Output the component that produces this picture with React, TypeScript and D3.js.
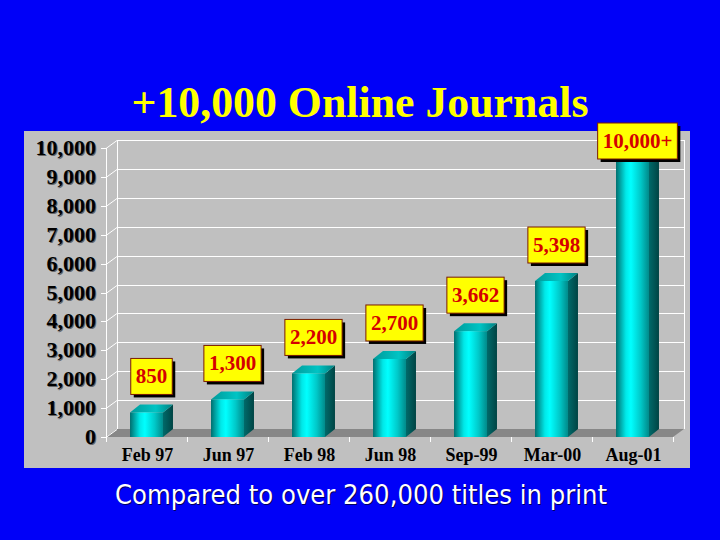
import React, { useEffect, useRef } from "react";
import * as d3 from "d3";

const categories = ["Feb 97", "Jun 97", "Feb 98", "Jun 98", "Sep-99", "Mar-00", "Aug-01"];
const values = [850, 1300, 2200, 2700, 3662, 5398, 10000];
const valueLabels = ["850", "1,300", "2,200", "2,700", "3,662", "5,398", "10,000+"];
const yTicks = [0, 1000, 2000, 3000, 4000, 5000, 6000, 7000, 8000, 9000, 10000];
const title = "+10,000 Online Journals";
const subtitle = "Compared to over 260,000 titles in print";

export default function App() {
  const ref = useRef<SVGSVGElement>(null);
  useEffect(() => {
    const svg = d3.select(ref.current);
    svg.selectAll("*").remove();
    const W = 720, H = 540;
    const serif = "'Liberation Serif', 'Times New Roman', serif";

    const defs = svg.append("defs");
    const gFront = defs.append("linearGradient").attr("id", "front").attr("x1", 0).attr("x2", 1).attr("y1", 0).attr("y2", 0);
    [["0%", "#006e6e"], ["30%", "#00e8e8"], ["45%", "#00ffff"], ["75%", "#00c8c8"], ["100%", "#008a8a"]].forEach(([o, c]) =>
      gFront.append("stop").attr("offset", o).attr("stop-color", c));
    const gSide = defs.append("linearGradient").attr("id", "side").attr("x1", 0).attr("x2", 1).attr("y1", 0).attr("y2", 0);
    [["0%", "#006a6a"], ["100%", "#004444"]].forEach(([o, c]) =>
      gSide.append("stop").attr("offset", o).attr("stop-color", c));
    const gTop = defs.append("linearGradient").attr("id", "top").attr("x1", 0).attr("x2", 1).attr("y1", 0).attr("y2", 0);
    [["0%", "#009a9a"], ["60%", "#00c4c4"], ["100%", "#008080"]].forEach(([o, c]) =>
      gTop.append("stop").attr("offset", o).attr("stop-color", c));

    svg.append("rect").attr("width", W).attr("height", H).attr("fill", "#0000f8");

    // title
    svg.append("text").attr("x", 360).attr("y", 117).attr("text-anchor", "middle")
      .attr("font-family", serif).attr("font-weight", "bold").attr("font-size", 44)
      .attr("fill", "#ffff00").attr("textLength", 457).attr("lengthAdjust", "spacingAndGlyphs").text(title);

    // panel
    svg.append("rect").attr("x", 24).attr("y", 131).attr("width", 666).attr("height", 337).attr("fill", "#c0c0c0");

    const x0 = 106, x1 = 673, dx = 11, dy = -8;
    const x = d3.scaleBand<string>().domain(categories).range([x0, x1]).paddingInner(0.593).paddingOuter(0.2965);
    const y = d3.scaleLinear().domain([0, 10000]).range([437, 148]);
    const step = x.step();

    // gridlines
    const grid = svg.append("g").attr("stroke", "#ffffff").attr("stroke-width", 1).attr("fill", "none");
    yTicks.forEach((t) => {
      const yy = Math.round(y(t)) + 0.5;
      if (t > 0) {
        grid.append("line").attr("x1", x0 + dx).attr("x2", x1 + dx).attr("y1", yy + dy).attr("y2", yy + dy);
      }
      grid.append("line").attr("x1", x0).attr("x2", x0 + dx).attr("y1", yy).attr("y2", yy + dy);
      grid.append("line").attr("x1", x0 - 5).attr("x2", x0).attr("y1", yy).attr("y2", yy);
    });
    grid.append("line").attr("x1", x0 + dx + 0.5).attr("x2", x0 + dx + 0.5).attr("y1", y(10000) + dy).attr("y2", y(0) + dy);
    grid.append("line").attr("x1", x1 + dx + 0.5).attr("x2", x1 + dx + 0.5).attr("y1", y(10000) + dy).attr("y2", y(0) + dy);
    grid.append("line").attr("x1", x0 + 0.5).attr("x2", x0 + 0.5).attr("y1", y(10000)).attr("y2", y(0) + 5);

    // floor
    svg.append("polygon")
      .attr("points", [[x0, y(0)], [x1, y(0)], [x1 + dx, y(0) + dy], [x0 + dx, y(0) + dy]].map((p) => p.join(",")).join(" "))
      .attr("fill", "#878787");
    categories.forEach((_, i) => {
      const xx = Math.round(x0 + step * (i + 1)) + 0.5;
      grid.append("line").attr("x1", xx).attr("x2", xx).attr("y1", y(0)).attr("y2", y(0) + 5);
    });
    grid.raise();

    // y labels
    const yl = svg.append("g").attr("font-family", serif).attr("font-weight", "bold").attr("font-size", 22).attr("text-anchor", "end");
    yTicks.forEach((t) => {
      const s = d3.format(",")(t);
      yl.append("text").attr("x", 97).attr("y", y(t) + 8).attr("fill", "#666").text(s);
      yl.append("text").attr("x", 96).attr("y", y(t) + 7).attr("fill", "#000").text(s);
    });

    // x labels
    svg.append("g").selectAll("text").data(categories).join("text")
      .attr("x", (d) => (x(d) as number) + x.bandwidth() / 2 + 1)
      .attr("y", 461).attr("text-anchor", "middle")
      .attr("font-family", serif).attr("font-weight", "bold").attr("font-size", 18).attr("fill", "#000")
      .text((d) => d);

    // bars
    const bd = 10, bdy = -8;
    const bars = svg.append("g");
    categories.forEach((c, i) => {
      const bx = x(c) as number, bw = x.bandwidth();
      const top = y(values[i]), bot = y(0);
      bars.append("polygon").attr("fill", "url(#side)")
        .attr("points", [[bx + bw, top], [bx + bw + bd, top + bdy], [bx + bw + bd, bot + bdy], [bx + bw, bot]].map((p) => p.join(",")).join(" "));
      bars.append("polygon").attr("fill", "url(#top)")
        .attr("points", [[bx, top], [bx + bd, top + bdy], [bx + bw + bd, top + bdy], [bx + bw, top]].map((p) => p.join(",")).join(" "));
      bars.append("rect").attr("x", bx).attr("y", top).attr("width", bw).attr("height", bot - top).attr("fill", "url(#front)");
    });

    // value labels
    const lab = svg.append("g");
    categories.forEach((c, i) => {
      const cx = (x(c) as number) + x.bandwidth() / 2 + 5;
      const cy = Math.max(y(values[i]) - 36, 141);
      const g = lab.append("g");
      const txt = g.append("text").attr("x", cx).attr("y", cy + 7).attr("text-anchor", "middle")
        .attr("font-family", serif).attr("font-weight", "bold").attr("font-size", 21).attr("fill", "#d40000")
        .text(valueLabels[i]);
      const tw = (txt.node() as SVGTextElement).getComputedTextLength();
      const bw = tw + 10, bh = 36;
      g.insert("rect", "text").attr("x", cx - bw / 2 + 3).attr("y", cy - bh / 2 + 3).attr("width", bw).attr("height", bh).attr("fill", "#000");
      g.insert("rect", "text").attr("x", cx - bw / 2).attr("y", cy - bh / 2).attr("width", bw).attr("height", bh)
        .attr("fill", "#ffff00").attr("stroke", "#7a1a00").attr("stroke-width", 1);
    });

    // subtitle
    svg.append("text").attr("x", 362).attr("y", 505).attr("text-anchor", "middle")
      .attr("font-family", "'DejaVu Sans', Verdana, sans-serif").attr("font-size", 26).attr("fill", "#000060")
      .attr("textLength", 492).attr("lengthAdjust", "spacingAndGlyphs").text(subtitle);
    svg.append("text").attr("x", 361).attr("y", 504).attr("text-anchor", "middle")
      .attr("font-family", "'DejaVu Sans', Verdana, sans-serif").attr("font-size", 26).attr("fill", "#ffffff")
      .attr("textLength", 492).attr("lengthAdjust", "spacingAndGlyphs").text(subtitle);
  }, []);
  return (
    <svg ref={ref} width={720} height={540} style={{ position: "absolute", left: 0, top: 0, display: "block" }} />
  );
}
